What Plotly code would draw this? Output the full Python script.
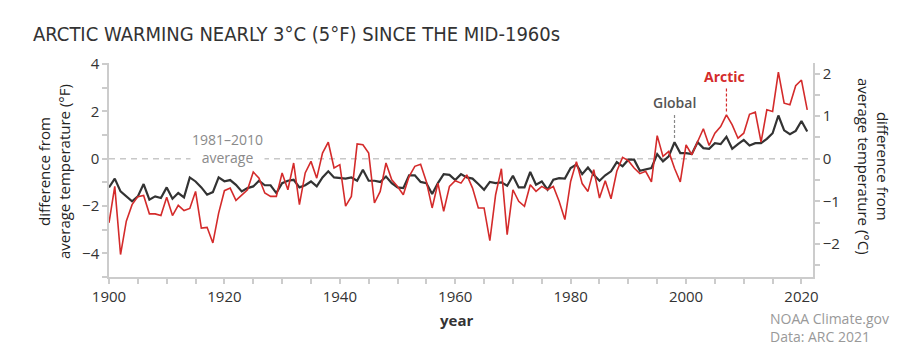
import plotly.graph_objects as go

years = list(range(1900, 2022))

arctic_f = [
    -2.71, -1.17, -4.05, -2.64, -1.94, -1.60, -1.55, -2.33, -2.33, -2.40,
    -1.63, -2.40, -1.97, -2.19, -2.10, -1.38, -2.93, -2.90, -3.56, -2.30,
    -1.35, -1.24, -1.76, -1.52, -1.31, -0.56, -0.82, -1.45, -1.59, -1.59,
    -0.60, -1.31, -0.18, -1.94, -0.60, -0.11, -0.82, 0.24, 0.70, -0.39,
    -0.25, -2.00, -1.59, 0.63, 0.59, 0.24, -1.87, -1.38, -0.18, -0.89,
    -1.17, -1.52, -0.75, -0.32, -0.23, -0.97, -2.08, -1.03, -2.22, -1.17,
    -0.93, -1.03, -0.68, -1.24, -2.08, -2.08, -3.46, -1.52, -0.42, -3.21,
    -1.31, -1.80, -2.01, -1.10, -1.38, -1.17, -1.31, -1.17, -1.80, -2.57,
    -0.96, -0.12, -1.05, -1.38, -0.46, -1.66, -0.93, -1.69, -0.53, 0.06,
    -0.08, -0.39, -0.63, -0.53, -0.98, 0.98, 0.10, 0.31, -0.40, -0.98,
    0.59, 0.17, 0.73, 1.27, 0.56, 1.08, 1.36, 1.86, 1.43, 0.87,
    1.08, 1.88, 1.97, 0.70, 2.07, 2.00, 3.66, 2.35, 2.28, 3.09,
    3.33, 2.07,
]

global_f = [
    -1.21, -0.84, -1.38, -1.59, -1.80, -1.59, -1.07, -1.73, -1.59, -1.66,
    -1.21, -1.69, -1.45, -1.63, -0.79, -0.96, -1.21, -1.52, -1.41, -0.79,
    -0.95, -0.90, -1.10, -1.38, -1.24, -1.17, -0.93, -1.12, -1.12, -1.45,
    -1.03, -0.93, -0.89, -1.21, -1.12, -0.96, -1.17, -0.79, -0.53, -0.79,
    -0.82, -0.84, -0.79, -0.93, -0.46, -0.93, -0.93, -0.98, -0.75, -1.03,
    -1.21, -1.24, -0.70, -0.70, -0.98, -1.03, -1.49, -1.03, -0.65, -0.68,
    -0.90, -0.65, -0.79, -0.84, -1.07, -1.31, -0.98, -1.03, -1.00, -1.14,
    -0.72, -1.21, -1.21, -0.56, -1.10, -0.96, -1.31, -0.89, -0.82, -0.84,
    -0.39, -0.24, -0.65, -0.37, -0.68, -0.93, -0.70, -0.53, -0.14, -0.32,
    -0.04, -0.04, -0.51, -0.46, -0.39, 0.20, -0.11, 0.10, 0.70, 0.24,
    0.24, 0.20, 0.70, 0.45, 0.42, 0.66, 0.62, 0.93, 0.42, 0.62,
    0.80, 0.56, 0.66, 0.66, 0.84, 1.08, 1.83, 1.20, 1.04, 1.18,
    1.60, 1.15,
]

x_ticks = [1900, 1920, 1940, 1960, 1980, 2000, 2020]
yf_range = [-5.0, 4.05]
yc_range = [v / 1.8 for v in yf_range]

title_text = "ARCTIC WARMING NEARLY 3°C (5°F) SINCE THE MID-1960s"
left_title = "difference from<br>average temperature (°F)"
right_title = "difference from<br>average temperature (°C)"
source_text = "NOAA Climate.gov<br>Data: ARC 2021"

RED = "#d42b2b"
BLACK = "#333333"
AXIS = "#cccccc"
FONT = "Open Sans"

W, H = 918, 348
ML, MR, MT, MB = 109, 105, 63, 71
PW, PH = W - ML - MR, H - MT - MB


def px_to_paper(px, py):
    return (px - ML) / PW, (H - MB - py) / PH


fig = go.Figure()
fig.add_trace(go.Scatter(x=years, y=global_f, mode="lines",
                         line=dict(color=BLACK, width=2.2), hoverinfo="skip"))
fig.add_trace(go.Scatter(x=years, y=arctic_f, mode="lines",
                         line=dict(color=RED, width=1.6), hoverinfo="skip"))
# invisible trace to activate the right (°C) axis
fig.add_trace(go.Scatter(x=[years[0]], y=[0], yaxis="y2", mode="markers",
                         marker=dict(opacity=0), hoverinfo="skip"))

fig.update_layout(
    width=W, height=H, autosize=False,
    margin=dict(l=ML, r=MR, t=MT, b=MB),
    paper_bgcolor="white", plot_bgcolor="white",
    showlegend=False,
    font=dict(family=FONT, size=15, color="#333333"),
    title=dict(text=title_text, x=33 / W, xanchor="left", xref="container",
               y=1 - 34 / H, yanchor="middle", yref="container",
               font=dict(family="DejaVu Sans Condensed, Liberation Sans Narrow, sans-serif",
                         size=20, color="#333333")),
    xaxis=dict(range=[1900, 2022], tick0=1900, dtick=20, showgrid=False,
               zeroline=False, showline=True, linecolor=AXIS, linewidth=1.5,
               ticks="outside", ticklen=5, tickcolor=AXIS, tickwidth=1.5,
               minor=dict(dtick=5, tick0=1900, ticks="outside", ticklen=5,
                          tickcolor=AXIS, tickwidth=1.5),
               tickfont=dict(size=15, color="#333333")),
    yaxis=dict(range=yf_range, tick0=0, dtick=2, showgrid=False, zeroline=False,
               showline=True, linecolor=AXIS, linewidth=1.5,
               ticks="outside", ticklen=5, tickcolor=AXIS, tickwidth=1.5,
               minor=dict(dtick=1, tick0=0, ticks="outside", ticklen=5,
                          tickcolor=AXIS, tickwidth=1.5),
               tickfont=dict(size=15, color="#333333")),
    yaxis2=dict(range=yc_range, overlaying="y", side="right", tick0=0, dtick=1,
                showgrid=False, zeroline=False, showline=True, linecolor=AXIS,
                linewidth=1.5, ticks="outside", ticklen=5, tickcolor=AXIS,
                tickwidth=1.5,
                minor=dict(dtick=0.5, tick0=0, ticks="outside", ticklen=5,
                           tickcolor=AXIS, tickwidth=1.5),
                tickfont=dict(size=15, color="#333333")),
)

# dashed 1981-2010 average line
fig.add_shape(type="line", xref="paper", yref="y", x0=0, x1=1, y0=0, y1=0,
              line=dict(color="#c8c8c8", width=1.5, dash="6px,5px"), layer="below")

# pointer lines for labels
fig.add_shape(type="line", xref="x", yref="y", x0=1998, x1=1998, y0=0.88, y1=1.9,
              line=dict(color="#888888", width=1.2, dash="3px,2px"))
fig.add_shape(type="line", xref="x", yref="y", x0=2007, x1=2007, y0=2.0, y1=3.02,
              line=dict(color=RED, width=1.2, dash="3px,2px"))

lx, ly = px_to_paper(54, 172)
rx, ry = px_to_paper(873, 166)
yx, yy = px_to_paper(456, 320)
sx, sy = px_to_paper(768, 327)

annotations = [
    dict(text="1981–2010<br>average", x=1920.6, y=0.42, xref="x", yref="y",
         showarrow=False, xanchor="center", yanchor="middle",
         font=dict(family=FONT, size=14, color="#8a8a8a"), bgcolor="white",
         borderpad=1),
    dict(text="Global", x=1998, y=2.36, xref="x", yref="y", showarrow=False,
         xanchor="center", yanchor="middle",
         font=dict(family=FONT, size=14, color="#555555", weight=600)),
    dict(text="Arctic", x=2006.6, y=3.46, xref="x", yref="y", showarrow=False,
         xanchor="center", yanchor="middle",
         font=dict(family=FONT, size=14, color=RED, weight=700)),
    dict(text=left_title, x=lx, y=ly, xref="paper", yref="paper",
         showarrow=False, textangle=-90, xanchor="center", yanchor="middle",
         font=dict(family=FONT, size=15, color="#222222")),
    dict(text=right_title, x=rx, y=ry, xref="paper", yref="paper",
         showarrow=False, textangle=90, xanchor="center", yanchor="middle",
         font=dict(family=FONT, size=15, color="#222222")),
    dict(text="year", x=yx, y=yy, xref="paper", yref="paper",
         showarrow=False, xanchor="center", yanchor="middle",
         font=dict(family=FONT, size=15, color="#333333", weight=700)),
    dict(text=source_text, x=sx, y=sy, xref="paper", yref="paper",
         showarrow=False, xanchor="left", yanchor="middle", align="left",
         font=dict(family=FONT, size=14, color="#999999")),
]
fig.update_layout(annotations=annotations)

fig.write_html("out.html")
